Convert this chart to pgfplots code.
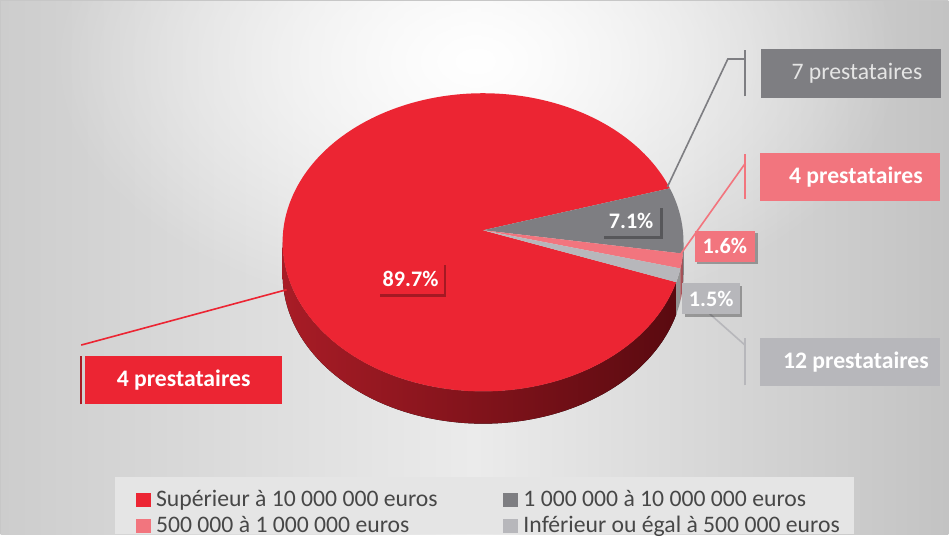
\documentclass[border=0pt]{standalone}
\usepackage{pgfplots}
\pgfplotsset{compat=1.18}
\usepackage{pgfplotstable}
\usepackage{fontspec}
\setmainfont{Carlito}
\usetikzlibrary{shadows,fadings}
\tikzfading[name=fade out, inner color=transparent!0, outer color=transparent!100]

\definecolor{pred}{HTML}{EC2533}
\definecolor{pgray}{HTML}{7E7E82}
\definecolor{ppink}{HTML}{F2757E}
\definecolor{plgray}{HTML}{B7B7BB}
\definecolor{rside1}{HTML}{A81C26}
\definecolor{rside2}{HTML}{5A0A10}
\definecolor{bgl}{HTML}{CDCDCD}
\definecolor{bgm}{HTML}{EBEBEB}
\definecolor{bgr}{HTML}{C3C3C3}
\definecolor{legbg}{HTML}{E5E5E5}

\pgfplotstableread{
share count
89.7 4
7.1 7
1.6 4
1.5 12
}\piedata

\begin{document}
\begin{tikzpicture}
\pgfplotstablegetelem{0}{share}\of\piedata \let\sa\pgfplotsretval
\pgfplotstablegetelem{1}{share}\of\piedata \let\sb\pgfplotsretval
\pgfplotstablegetelem{2}{share}\of\piedata \let\sc\pgfplotsretval
\pgfplotstablegetelem{3}{share}\of\piedata \let\sd\pgfplotsretval
\pgfmathsetmacro{\tot}{\sa+\sb+\sc+\sd}
\pgfmathsetmacro{\A}{-15.5}
\pgfmathsetmacro{\B}{\A-360*(\sa/\tot)}
\pgfmathsetmacro{\C}{\B-360*(\sb/\tot)}
\pgfmathsetmacro{\D}{\C-360*(\sc/\tot)}
\pgfmathsetmacro{\E}{\D-360*(\sd/\tot)}
\pgfmathsetmacro{\Bf}{\B+360}
\pgfmathsetmacro{\Cf}{\C+360}
\pgfmathsetmacro{\Df}{\D+360}
\def\rx{199pt}\def\ry{148pt}\def\dep{32pt}
\def\rxy{199pt and 148pt}
\begin{axis}[
  scale only axis, width=949pt, height=540pt,
  xmin=0, xmax=949, ymin=0, ymax=540,
  axis lines=none, clip=false,
  legend columns=2,
  legend cell align=left,
  legend image code/.code={\fill[#1] (0pt,-6.5pt) rectangle (14pt,6.5pt); \path[draw=none,fill=none] (0pt,0pt) rectangle (18pt,0.1pt);},
  legend style={at={(axis cs:130,-4)}, anchor=south west, fill=none, draw=none,
    font=\fontsize{23.5}{26}\selectfont, text=black!72,
    inner xsep=12pt, inner ysep=2pt, row sep=4pt,
    nodes={inner sep=2pt},
    /tikz/every even column/.append style={column sep=63pt}},
]
% background
\begin{scope}
\clip (axis cs:8,0) rectangle (axis cs:949,530);
\shade[left color=bgl, right color=bgr, middle color=bgm] (axis cs:8,0) rectangle (axis cs:949,530);
\fill[white, path fading=fade out] (axis cs:480,470) ellipse (420pt and 260pt);
\end{scope}
\draw[black!22, line width=1.2pt] (axis cs:8,0) -- (axis cs:8,530) -- (axis cs:949,530);
\fill[legbg] (axis cs:122,0) rectangle (axis cs:855,57);

% sides (front)
\fill[left color=rside1, right color=rside2] (axis cs:487,290) ++(-180:\rxy) arc[start angle=-180, end angle=\A, x radius=\rx, y radius=\ry] -- ++(0pt,-\dep) arc[start angle=\A, end angle=-180, x radius=\rx, y radius=\ry] -- cycle;
\fill[black!42] (axis cs:487,290) ++(\A:\rxy) arc[start angle=\A, end angle=\Df, x radius=\rx, y radius=\ry] -- ++(0pt,-\dep) arc[start angle=\Df, end angle=\A, x radius=\rx, y radius=\ry] -- cycle;
\fill[ppink!70!black] (axis cs:487,290) ++(\Df:\rxy) arc[start angle=\Df, end angle=\Cf, x radius=\rx, y radius=\ry] -- ++(0pt,-\dep) arc[start angle=\Cf, end angle=\Df, x radius=\rx, y radius=\ry] -- cycle;
\fill[pgray!70!black] (axis cs:487,290) ++(\Cf:\rxy) arc[start angle=\Cf, end angle=0, x radius=\rx, y radius=\ry] -- ++(0pt,-\dep) arc[start angle=0, end angle=\Cf, x radius=\rx, y radius=\ry] -- cycle;

% top faces (vertex at 487,302)
\fill[pred] (axis cs:487,302) -- ([shift={(\A:\rxy)}]axis cs:487,290) arc[start angle=\A, end angle=\B, x radius=\rx, y radius=\ry] -- cycle;
\fill[pgray] (axis cs:487,302) -- ([shift={(\Bf:\rxy)}]axis cs:487,290) arc[start angle=\Bf, end angle=\Cf, x radius=\rx, y radius=\ry] -- cycle;
\fill[ppink] (axis cs:487,302) -- ([shift={(\Cf:\rxy)}]axis cs:487,290) arc[start angle=\Cf, end angle=\Df, x radius=\rx, y radius=\ry] -- cycle;
\fill[plgray] (axis cs:487,302) -- ([shift={(\Df:\rxy)}]axis cs:487,290) arc[start angle=\Df, end angle=\A, x radius=\rx, y radius=\ry] -- cycle;

% leader lines
\draw[pgray, line width=1.6pt] (axis cs:670,345) -- (axis cs:730,472) -- (axis cs:747,472);
\draw[pgray, line width=2pt] (axis cs:747,435) -- (axis cs:747,481);
\draw[ppink, line width=1.6pt] (axis cs:683,278) -- (axis cs:747,368);
\draw[ppink, line width=2pt] (axis cs:747,333) -- (axis cs:747,378);
\draw[plgray, line width=1.6pt] (axis cs:712,219) -- (axis cs:747,188);
\draw[plgray, line width=2pt] (axis cs:747,148) -- (axis cs:747,195);
\draw[pred, line width=1.6pt] (axis cs:292,243) -- (axis cs:88,188);
\draw[rside1, line width=2pt] (axis cs:88,129) -- (axis cs:88,177);

% percentage labels
\tikzset{pct/.style={text=white, font=\bfseries\fontsize{22}{24}\selectfont, minimum height=31pt, inner sep=0pt,
  drop shadow={shadow xshift=2.5pt, shadow yshift=-2.5pt, opacity=0.3, fill=black}}}
\node[pct, fill=pred, minimum width=66pt] at (axis cs:415,254) {89.7\%};
\node[pct, fill=pgray, minimum width=58pt] at (axis cs:634,311.5) {7.1\%};
\node[pct, fill=ppink, minimum width=60pt] at (axis cs:727,286) {1.6\%};
\node[pct, fill=plgray, minimum width=57pt] at (axis cs:713.5,234) {1.5\%};

% callouts
\tikzset{call/.style={text=white, minimum width=178pt, minimum height=48pt, inner sep=0pt, anchor=west, font=\fontsize{23.5}{26}\selectfont}}
\node[call, fill=pgray, text=white!90!black] at (axis cs:763,457.5) {\hspace{12pt}7 prestataires};
\node[call, fill=ppink, font=\bfseries\fontsize{23.5}{26}\selectfont] at (axis cs:762,355) {\hspace{12pt}4 prestataires};
\node[call, fill=plgray, font=\bfseries\fontsize{23.5}{26}\selectfont] at (axis cs:762,171) {\hspace{12pt}12 prestataires};
\node[call, fill=pred, minimum width=195pt, font=\bfseries\fontsize{23.5}{26}\selectfont] at (axis cs:92,153) {4 prestataires};

% legend
\addlegendimage{pred}
\addlegendentry{Supérieur à 10 000 000 euros}
\addlegendimage{pgray}
\addlegendentry{1 000 000 à 10 000 000 euros}
\addlegendimage{ppink}
\addlegendentry{500 000 à 1 000 000 euros}
\addlegendimage{plgray}
\addlegendentry{Inférieur ou égal à 500 000 euros}
\end{axis}
\end{tikzpicture}
\end{document}
